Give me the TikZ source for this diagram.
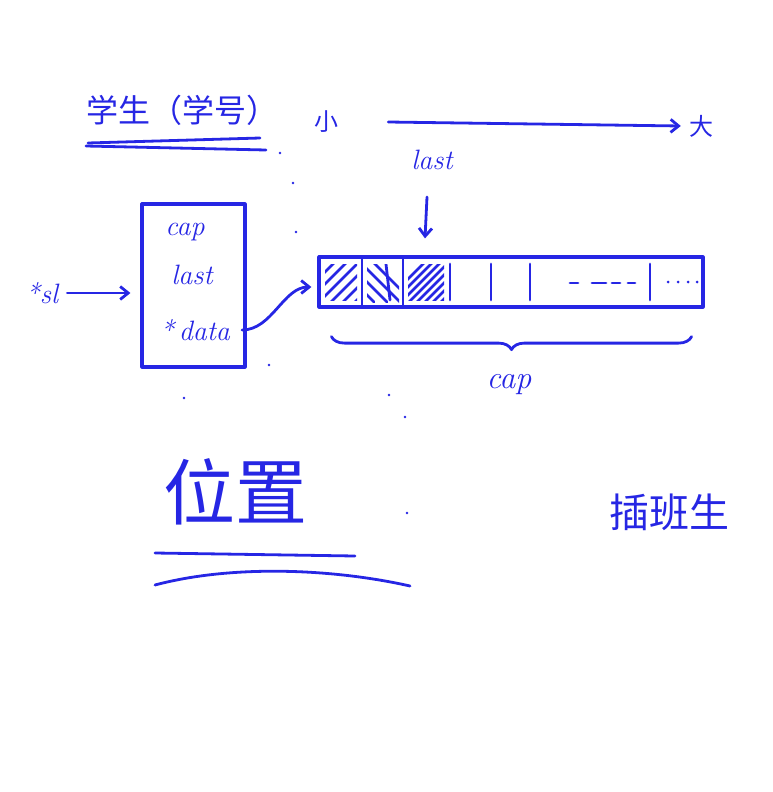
\documentclass[tikz,border=0pt]{standalone}
\usepackage{fontspec}
\newfontfamily\cjk{Noto Sans CJK SC}
\usetikzlibrary{positioning, arrows.meta, decorations.pathreplacing}
\definecolor{InkBlue}{RGB}{38, 38, 228}

\begin{document}
\begin{tikzpicture}[x=1pt, y=-1pt,
    ink/.style={draw=InkBlue, line width=2.8pt, line cap=round, line join=round},
    tip/.style={-{Straight Barb[length=8pt, width=13pt]}},
    word/.style={text=InkBlue, inner sep=0pt, font=\fontsize{28}{30}\selectfont\itshape},
    hanzi/.style={text=InkBlue, inner sep=0pt}]
\useasboundingbox (0,0) rectangle (772,792);

% title and its two underlines
\node[hanzi, font=\cjk\fontsize{32}{34}\selectfont] (title) at (182,110) {学生（学号）};
\draw[ink] (88,143) -- (260,138);
\draw[ink] (86,146) -- (266,150);

% small -> large
\node[hanzi, font=\cjk\fontsize{24}{26}\selectfont] (small) at (326,122) {小};
\node[hanzi, font=\cjk\fontsize{24}{26}\selectfont] (big) at (701,126) {大};
\draw[ink, tip] ([xshift=50]small.east) -- ([xshift=-8]big.west);

% the struct
\node[ink, line width=3.2pt, minimum width=103pt, minimum height=163pt] (sbox) at (193.5,285.5) {};
\node[word] (fcap) at (185,232) {cap};
\node[word] (flast) at (192,275) {last};
\node[word] (fdata) at (195,330) {*\,data};
\node[word] (sl) at (42,293) {*sl};
\draw[ink, tip] ([xshift=9]sl.east) -- ([xshift=-10]sl.east -| sbox.west);

% the array
\node[ink, line width=3.2pt, minimum width=384pt, minimum height=50pt] (arr) at (511,282) {};
\foreach \x in {362,403}
    \draw[ink] (\x,257) -- (\x,307);
\foreach \x in {450,491,530,650}
    \draw[ink] (\x,264) -- (\x,300);
% used cells
\begin{scope}
    \clip (325,264) rectangle (357,300);
    \foreach \s in {290,302,...,370}
        \draw[ink] (\s,307) -- (\s+45,262);
\end{scope}
\begin{scope}
    \clip (367,264) rectangle (399,302);
    \foreach \s in {334,347,...,380}
        \draw[ink] (\s,262) -- (\s+40,302);
    \draw[ink] (386,264) -- (390,300);
\end{scope}
\begin{scope}
    \clip (408,264) rectangle (444,300);
    \foreach \s in {380,388,...,450}
        \draw[ink] (\s,307) -- (\s+45,262);
\end{scope}
% free cells
\foreach \a/\b in {570/578,592/606,612/620,628/635}
    \draw[ink] (\a,283) -- (\b,283);
\foreach \x in {668,678,688,697}
    \fill[InkBlue] (\x,282) circle (1.5);

\draw[ink, tip] ([xshift=12]fdata.east) .. controls +(30,0) and +(-28,0) .. ([shift={(-6,5)}]arr.west);

% last marker
\node[word] (lastlbl) at (432,160) {last};
\draw[ink, tip] ([shift={(-5,27)}]lastlbl.south) -- ([shift={(-7,-17)}]lastlbl.south |- arr.north);

% capacity brace
\draw[ink, decorate, decoration={brace, mirror, amplitude=13pt}]
    ([shift={(14,28)}]arr.south west) -- ([shift={(-13,28)}]arr.south east);
\node[word, font=\fontsize{32}{34}\selectfont\itshape] (capall) at (509,385) {cap};

% position
\node[hanzi, font=\cjk\fontsize{72}{74}\selectfont] (pos) at (235,492) {位置};
\draw[ink] (155,553) -- (355,556);
\draw[ink] (155,585) .. controls (230,565) and (330,568) .. (410,586);

% inserted student
\node[hanzi, font=\cjk\fontsize{40}{42}\selectfont] (insert) at (669,512) {插班生};

% stray dots
\foreach \x/\y in {280/153,293/183,296/232,269/365,184/398,389/395,405/417,407/513}
    \fill[InkBlue] (\x,\y) circle (1.3);
\end{tikzpicture}
\end{document}
